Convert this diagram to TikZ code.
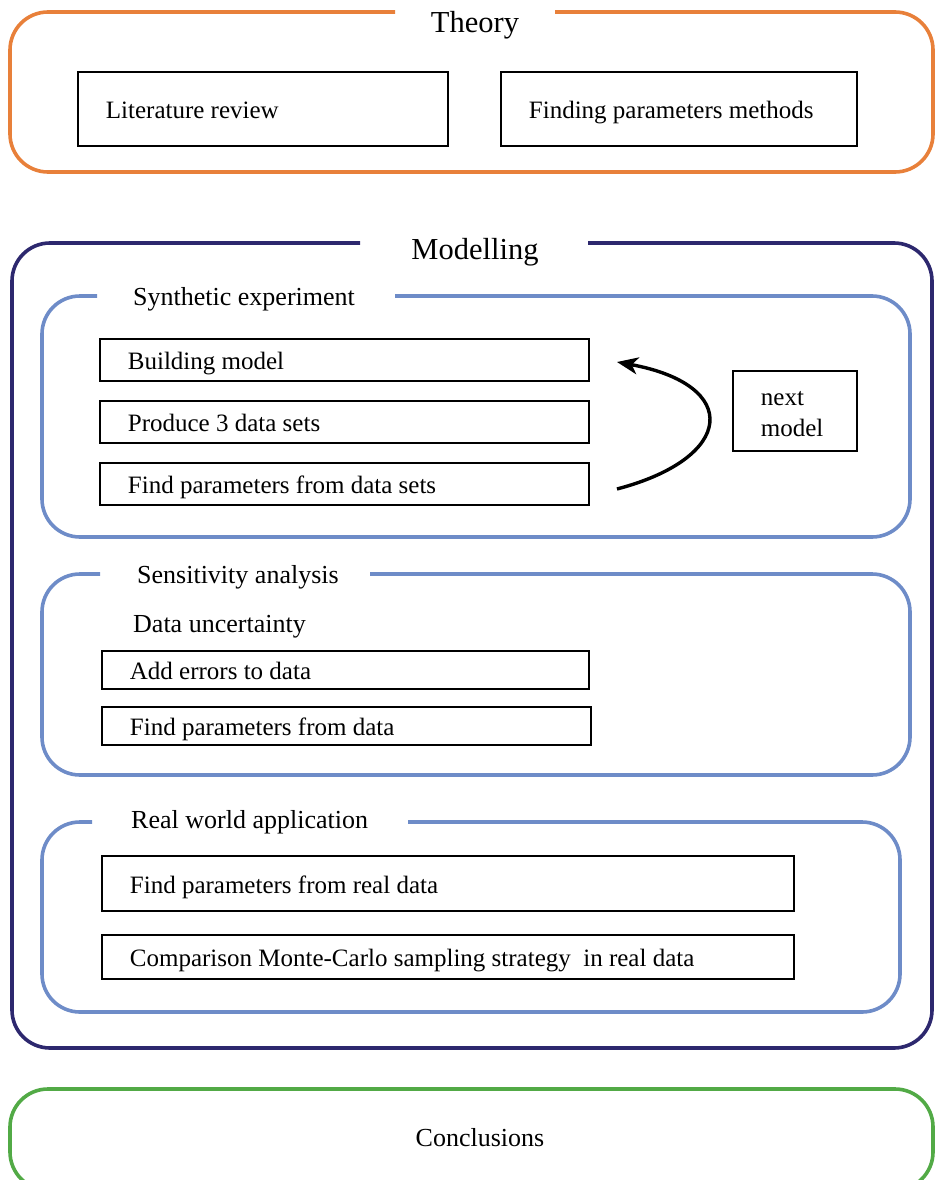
\documentclass[tikz,border=0pt]{standalone}
\usepackage{fontspec}
\setmainfont{Liberation Serif}
\usetikzlibrary{arrows.meta}
\definecolor{theoryc}{RGB}{232,128,58}
\definecolor{modelc}{RGB}{45,40,110}
\definecolor{subc}{RGB}{110,140,200}
\definecolor{conclc}{RGB}{82,170,70}
\newcommand\boxtxt[2]{\makebox[#1][l]{#2}}
\begin{document}
\begin{tikzpicture}[x=1pt,y=-1pt,
  frame/.style={line width=3.6pt, rounded corners=38pt},
  task/.style={draw, line width=1.8pt, anchor=north west,
    inner xsep=28pt, inner ysep=0pt, text height=20pt, text depth=0pt,
    font=\fontsize{25}{31}\selectfont},
  head/.style={anchor=base, inner sep=0pt, font=\fontsize{30.5}{36}\selectfont},
  subhead/.style={anchor=base west, inner sep=0pt, font=\fontsize{26}{31}\selectfont},
  loop/.style={line width=3.4pt, -{Stealth[length=21pt,width=17pt,inset=6pt]}}]
\useasboundingbox (0,0) rectangle (935,1180);
\clip (0,0) rectangle (935,1180);

% Theory
\draw[frame, theoryc] (555,12) -- (933,12) -- (933,172) -- (10,172) -- (10,12) -- (395,12);
\node[head] (theory) at (475,33) {Theory};
\node[task, minimum width=370pt, minimum height=74pt] (lit) at (77,71) {\boxtxt{314pt}{Literature review}};
\node[task, minimum width=356pt, minimum height=74pt] (fpm) at (500,71) {\boxtxt{300pt}{Finding parameters methods}};

% Modelling
\draw[frame, modelc] (588,243) -- (932,243) -- (932,1048) -- (12,1048) -- (12,243) -- (360,243);
\node[head] (modelling) at (475,259) {Modelling};

% Synthetic experiment
\draw[frame, subc] (395,296) -- (910,296) -- (910,537) -- (42,537) -- (42,296) -- (97,296);
\node[subhead] (synth) at (133,305) {Synthetic experiment};
\node[task, minimum width=489pt, minimum height=42pt] (bm) at (99,338) {\boxtxt{433pt}{Building model}};
\node[task, minimum width=489pt, minimum height=42pt] (p3) at (99,400) {\boxtxt{433pt}{Produce 3 data sets}};
\node[task, minimum width=489pt, minimum height=42pt] (fp) at (99,462) {\boxtxt{433pt}{Find parameters from data sets}};
\node[task, text height=45pt, text depth=25pt, minimum width=124pt, minimum height=80pt] (nm) at (732,370)
  {\boxtxt{68pt}{\begin{tabular}{@{}l@{}}next\\model\end{tabular}}};
\coordinate (loopstart) at (617,489);
\coordinate (loopend) at (617,362);
\draw[loop] (loopstart) .. controls (735,458) and (742,385) .. (loopend);

% Sensitivity analysis
\draw[frame, subc] (370,574) -- (910,574) -- (910,775) -- (42,775) -- (42,574) -- (100,574);
\node[subhead] (sens) at (137,583) {Sensitivity analysis};
\node[subhead] (du) at (133,632) {Data uncertainty};
\node[task, minimum width=487pt, minimum height=38pt] (ae) at (101,650) {\boxtxt{431pt}{Add errors to data}};
\node[task, minimum width=489pt, minimum height=38pt] (fpd) at (101,706) {\boxtxt{433pt}{Find parameters from data}};

% Real world application
\draw[frame, subc] (408,822) -- (900,822) -- (900,1012) -- (42,1012) -- (42,822) -- (92,822);
\node[subhead] (real) at (131,828) {Real world application};
\node[task, minimum width=692pt, minimum height=55pt] (fprd) at (101,855) {\boxtxt{636pt}{Find parameters from real data}};
\node[task, minimum width=692pt, minimum height=44pt] (cmc) at (101,934) {\boxtxt{636pt}{Comparison Monte-Carlo sampling strategy\ \ in real data}};

% Conclusions
\draw[frame, conclc] (10,1089) rectangle (933,1190);
\node[subhead, anchor=base] (concl) at (480,1146) {Conclusions};
\end{tikzpicture}
\end{document}
